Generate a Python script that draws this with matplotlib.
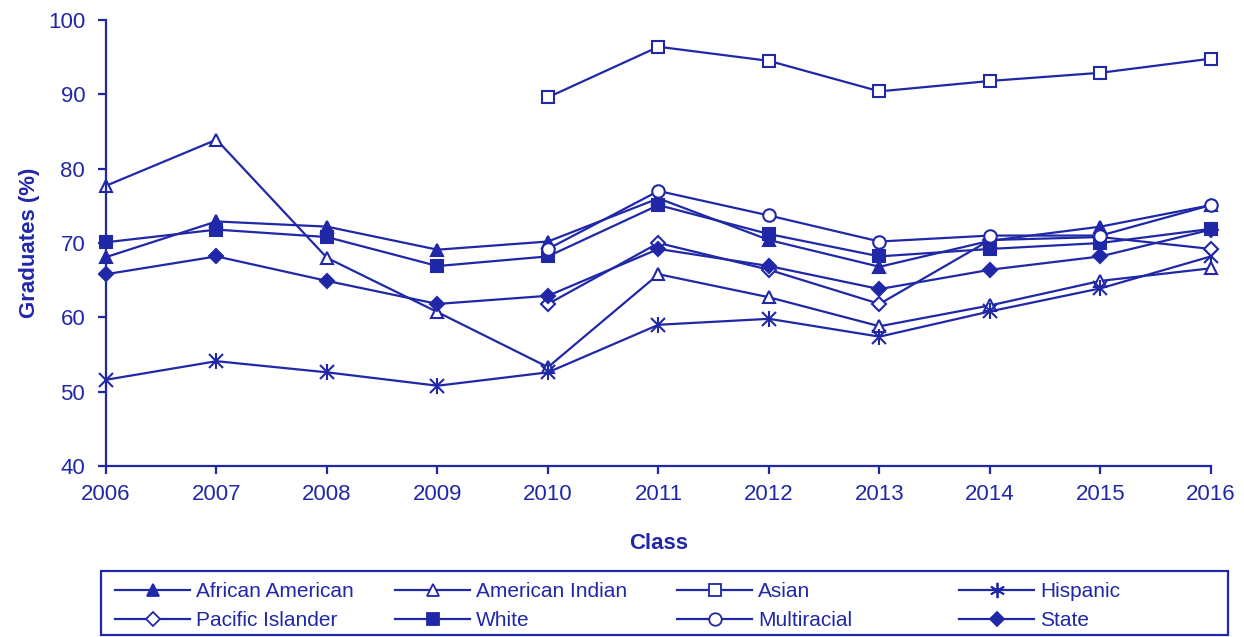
import numpy as np
import matplotlib.pyplot as plt
from matplotlib.patches import Rectangle
from matplotlib.lines import Line2D

# --- data ---
years = [2006, 2007, 2008, 2009, 2010, 2011, 2012, 2013, 2014, 2015, 2016]
nan = np.nan

african_american = [68.1, 72.9, 72.2, 69.1, 70.2, 76.0, 70.4, 66.8, 70.3, 72.2, 75.1]
american_indian = [77.7, 83.9, 68.0, 60.7, 53.3, 65.8, 62.7, 58.8, 61.6, 64.9, 66.6]
asian = [nan, nan, nan, nan, 89.6, 96.4, 94.5, 90.4, 91.8, 92.9, 94.8]
hispanic = [51.6, 54.1, 52.6, 50.8, 52.6, 59.0, 59.8, 57.4, 60.8, 63.9, 68.2]
pacific_islander = [nan, nan, nan, nan, 61.8, 70.0, 66.4, 61.8, 70.4, 70.8, 69.2]
white = [70.1, 71.8, 70.8, 66.9, 68.2, 75.1, 71.2, 68.2, 69.2, 70.0, 71.9]
multiracial = [nan, nan, nan, nan, 69.2, 77.0, 73.7, 70.2, 71.0, 71.0, 75.1]
state = [65.8, 68.2, 64.9, 61.8, 62.9, 69.2, 66.9, 63.8, 66.4, 68.2, 71.8]

labels = ["African American", "American Indian", "Asian", "Hispanic",
          "Pacific Islander", "White", "Multiracial", "State"]
series = [african_american, american_indian, asian, hispanic,
          pacific_islander, white, multiracial, state]

BLUE = "#2028A8"
plt.rcParams["font.family"] = ["Liberation Sans Narrow", "Liberation Sans", "DejaVu Sans"]
FS = 15

# marker, filled?, size
styles = {
    "African American": ("^", True, 9),
    "American Indian": ("^", False, 9),
    "Asian": ("s", False, 8),
    "Hispanic": ("x", True, 10),
    "Pacific Islander": ("D", False, 7),
    "White": ("s", True, 9),
    "Multiracial": ("o", False, 9),
    "State": ("D", True, 7),
}

fig = plt.figure(figsize=(12.44, 6.37), dpi=100)
ax = fig.add_axes([106 / 1244, 1 - 466 / 637, 1105 / 1244, 446 / 637])

for name, vals in zip(labels, series):
    m, filled, ms = styles[name]
    ax.plot(years, vals, color=BLUE, lw=1.6, marker=m, markersize=ms,
            markeredgecolor=BLUE, markeredgewidth=1.5,
            markerfacecolor=BLUE if filled else "white", clip_on=False)
    if name == "Hispanic":
        # asterisk look: add a vertical bar over the x
        ax.plot(years, vals, linestyle="none", marker="|", markersize=ms + 2,
                markeredgewidth=1.5, color=BLUE, clip_on=False)

ax.set_xlim(2006, 2016)
ax.set_ylim(40, 100)
ax.set_xticks(years)
ax.set_yticks(range(40, 101, 10))
for s in ["top", "right"]:
    ax.spines[s].set_visible(False)
for s in ["left", "bottom"]:
    ax.spines[s].set_color(BLUE)
    ax.spines[s].set_linewidth(1.6)
ax.tick_params(axis="both", colors=BLUE, labelcolor=BLUE, labelsize=FS + 1,
               length=6, width=1.6, direction="out")
ax.tick_params(axis="y", pad=9)
ax.tick_params(axis="x", pad=7)

ax.set_ylabel("Graduates (%)", fontsize=FS + 1, fontweight="bold", color=BLUE,
              labelpad=6)
ax.set_xlabel("Class", fontsize=FS + 1, fontweight="bold", color=BLUE, labelpad=20)

# --- legend: four fixed-width columns inside one frame ---
fig.patches.append(Rectangle((101 / 1244, 1 - 635 / 637), 1127 / 1244, 64 / 637,
                             transform=fig.transFigure, fill=False,
                             edgecolor=BLUE, linewidth=1.6))
col_x = [113, 393, 675, 957]
for c in range(4):
    hs = []
    for r in range(2):
        name = labels[r * 4 + c]
        m, filled, ms = styles[name]
        if name == "Hispanic":
            m = (6, 2, 0)
        hs.append(Line2D([], [], color=BLUE, lw=1.6, marker=m,
                         markersize=ms if name != "Hispanic" else 11,
                         markeredgecolor=BLUE, markeredgewidth=1.3,
                         markerfacecolor=BLUE if filled else "white"))
    fig.legend(hs, [labels[c], labels[4 + c]], loc="upper left",
               bbox_to_anchor=(col_x[c] / 1244, 1 - 580 / 637),
               frameon=False, fontsize=FS, handlelength=3.6,
               handletextpad=0.3, labelspacing=0.5,
               borderaxespad=0, borderpad=0.1, labelcolor=BLUE)

fig.savefig("out.png", dpi=100)
